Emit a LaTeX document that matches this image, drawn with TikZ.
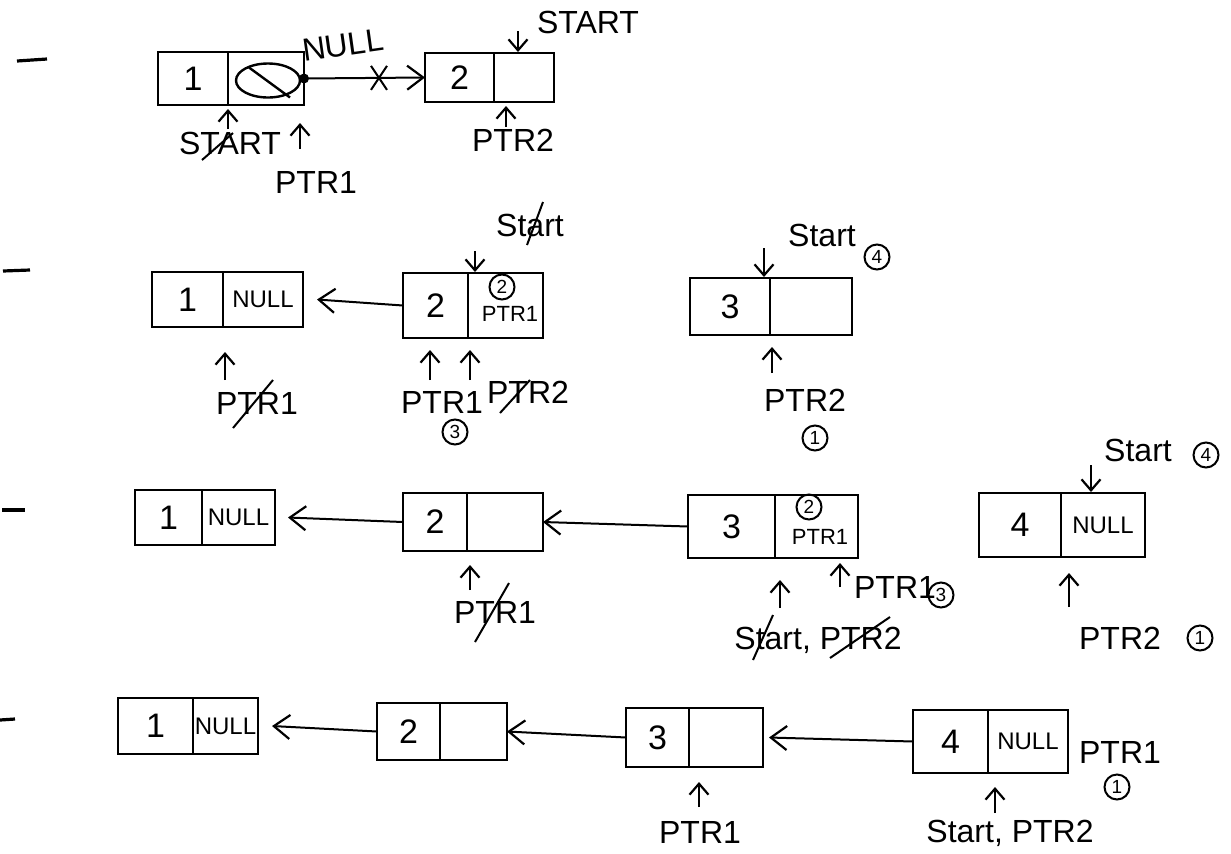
\documentclass[tikz,border=0pt]{standalone}
\usepackage{fontspec}
\setmainfont{Liberation Sans}
\usetikzlibrary{arrows.meta, calc}

\tikzset{
  cell/.style={draw, line width=1.3pt, anchor=north west, inner sep=0pt, outer sep=0pt,
    font=\fontsize{17}{17}\selectfont},
  nullcell/.style={cell, font=\fontsize{12}{12}\selectfont},
  lbl/.style={inner sep=1pt, font=\fontsize{16}{16}\selectfont},
  small/.style={inner sep=1pt, font=\fontsize{11}{11}\selectfont},
  ring/.style={draw, circle, line width=1pt, inner sep=0.5pt, minimum size=12.5pt,
    font=\fontsize{9.5}{9.5}\selectfont},
  link/.style={line width=1pt, -{Straight Barb[length=8pt,width=12pt,line width=1.1pt]}},
  ptr/.style={line width=1.1pt, -{Straight Barb[length=5.5pt,width=9.5pt]}},
  strike/.style={line width=1pt},
  rowdash/.style={line width=1.6pt}
}

\begin{document}
\begin{tikzpicture}[x=0.5pt, y=-0.5pt]
  \useasboundingbox (0,0) rectangle (1231,853);

  % Row 1
  \draw[rowdash] (17,61) -- (47,59);
  \node[cell, minimum width=35pt, minimum height=26.5pt] (a1d) at (158,52) {1};
  \node[cell, minimum width=38pt, minimum height=26.5pt] (a1p) at (a1d.north east) {};
  \node[cell, minimum width=34.5pt, minimum height=24.5pt] (a2d) at (425,53) {2};
  \node[cell, minimum width=30pt, minimum height=24.5pt] (a2p) at (a2d.north east) {};

  \draw[line width=1.2pt] ([shift={(2,2)}]a1p.center) ellipse [x radius=16pt, y radius=8.5pt];
  \draw[line width=1.2pt] ([shift={(-17,-11)}]a1p.center) -- ([shift={(24,19)}]a1p.center);
  \fill (a1p.east) circle (2.5pt);
  \draw[link] (a1p.east) -- coordinate[pos=0.62] (cut) (a2d.west);
  \draw[strike] ([shift={(-8,-12)}]cut) -- ([shift={(8,12)}]cut)
                ([shift={(8,-12)}]cut) -- ([shift={(-8,12)}]cut);

  \node[lbl, rotate=8] (nul) at (343,45) {NULL};
  \node[lbl] (st1) at (588,22) {START};
  \node[lbl] (sa1) at (230,143) {START};
  \draw[strike] ([shift={(-28,17)}]sa1.center) -- ([shift={(3,-10)}]sa1.center);
  \node[lbl] (pa1) at (316,182) {PTR1};
  \node[lbl] (pa2) at (513,140) {PTR2};

  \draw[ptr] ([shift={(24,-22)}]a2p.north west) -- ([shift={(24,-1)}]a2p.north west);
  \draw[ptr] ([shift={(0,24)}]a1p.south west) -- ([shift={(0,4)}]a1p.south west);
  \draw[ptr] ([shift={(-4,44)}]a1p.south east) -- ([shift={(-4,18)}]a1p.south east);
  \draw[ptr] ([shift={(12,25)}]a2p.south west) -- ([shift={(12,4)}]a2p.south west);

  % Row 2
  \draw[rowdash] (3,271) -- (30,270);
  \node[cell, minimum width=35.5pt, minimum height=27.5pt] (b1d) at (152,272) {1};
  \node[nullcell, minimum width=40pt, minimum height=27.5pt] (b1p) at (b1d.north east) {NULL};
  \node[cell, minimum width=32.5pt, minimum height=32.5pt] (b2d) at (403,273) {2};
  \node[cell, minimum width=37.5pt, minimum height=32.5pt] (b2p) at (b2d.north east) {};
  \node[cell, minimum width=40pt, minimum height=28.5pt] (b3d) at (690,278) {3};
  \node[cell, minimum width=41pt, minimum height=28.5pt] (b3p) at (b3d.north east) {};

  \draw[link] (b2d.west) -- ([xshift=7pt]b1p.east);

  \node[ring] (rb2) at (502,287) {2};
  \node[small] (tb2) at (510,314) {PTR1};
  \node[lbl] (sb2) at (530,225) {Start};
  \draw[strike] ([shift={(-3,20)}]sb2.center) -- ([shift={(13,-23)}]sb2.center);
  \node[lbl] (pb1) at (257,403) {PTR1};
  \draw[strike] ([shift={(-24,25)}]pb1.center) -- ([shift={(16,-23)}]pb1.center);
  \node[lbl] (pb2) at (442,402) {PTR1};
  \node[ring] (rb3) at (455,432) {3};
  \node[lbl] (pb3) at (528,392) {PTR2};
  \draw[strike] ([shift={(-28,21)}]pb3.center) -- ([shift={(2,-12)}]pb3.center);
  \node[lbl] (sb3) at (822,235) {Start};
  \node[ring] (rb4) at (877,257) {4};
  \node[lbl] (pb4) at (805,400) {PTR2};
  \node[ring] (rb1) at (815,438) {1};

  \draw[ptr] ([shift={(7,-22)}]b2p.north west) -- ([shift={(7,-1)}]b2p.north west);
  \draw[ptr] ([shift={(2,53)}]b1p.south west) -- ([shift={(2,25)}]b1p.south west);
  \draw[ptr] ([shift={(27,42)}]b2d.south west) -- ([shift={(27,12)}]b2d.south west);
  \draw[ptr] ([shift={(2,42)}]b2p.south west) -- ([shift={(2,12)}]b2p.south west);
  \draw[ptr] ([shift={(-6,-30)}]b3p.north west) -- ([shift={(-6,-1)}]b3p.north west);
  \draw[ptr] ([shift={(2,38)}]b3p.south west) -- ([shift={(2,12)}]b3p.south west);

  % Row 3
  \draw[rowdash] (2,510) -- (25,510);
  \node[cell, minimum width=33.5pt, minimum height=27.5pt] (c1d) at (135,490) {1};
  \node[nullcell, minimum width=36.5pt, minimum height=27.5pt] (c1p) at (c1d.north east) {NULL};
  \node[cell, minimum width=32pt, minimum height=29pt] (c2d) at (403,493) {2};
  \node[cell, minimum width=38pt, minimum height=29pt] (c2p) at (c2d.north east) {};
  \node[cell, minimum width=43.5pt, minimum height=31.5pt] (c3d) at (688,495) {3};
  \node[cell, minimum width=41.5pt, minimum height=31.5pt] (c3p) at (c3d.north east) {};
  \node[cell, minimum width=41pt, minimum height=32pt] (c4d) at (979,493) {4};
  \node[nullcell, minimum width=42pt, minimum height=32pt] (c4p) at (c4d.north east) {NULL};

  \draw[link] (c2d.west) -- ([xshift=6.5pt]c1p.east);
  \draw[link] (c3d.west) -- (c2p.east);

  \node[ring] (rc2) at (809,507) {2};
  \node[small] (tc3) at (820,537) {PTR1};
  \node[lbl] (pc1) at (495,612) {PTR1};
  \draw[strike] ([shift={(-20,30)}]pc1.center) -- ([shift={(14,-29)}]pc1.center);
  \node[lbl] (pc2) at (895,587) {PTR1};
  \node[ring] (rc3) at (941,595) {3};
  \node[lbl] (sc3) at (818,640) {Start, PTR2};
  \draw[strike] ([shift={(-65,20)}]sc3.center) -- ([shift={(-45,-25)}]sc3.center);
  \draw[strike] ([shift={(12,18)}]sc3.center) -- ([shift={(72,-23)}]sc3.center);
  \node[lbl] (sc4) at (1138,450) {Start};
  \node[ring] (rc4) at (1206,455) {4};
  \node[lbl] (pc3) at (1120,638) {PTR2};
  \node[ring] (rc1) at (1200,638) {1};

  \draw[ptr] ([shift={(3,39)}]c2p.south west) -- ([shift={(3,14)}]c2p.south west);
  \draw[ptr] ([shift={(5,50)}]c3p.south west) -- ([shift={(5,22)}]c3p.south west);
  \draw[ptr] ([shift={(-18,29)}]c3p.south east) -- ([shift={(-18,5)}]c3p.south east);
  \draw[ptr] ([shift={(30,-28)}]c4p.north west) -- ([shift={(30,-1)}]c4p.north west);
  \draw[ptr] ([shift={(8,50)}]c4p.south west) -- ([shift={(8,16)}]c4p.south west);

  % Row 4
  \draw[rowdash] (0,720) -- (15,719);
  \node[cell, minimum width=37.5pt, minimum height=28pt] (d1d) at (118,698) {1};
  \node[nullcell, minimum width=32.5pt, minimum height=28pt] (d1p) at (d1d.north east) {NULL};
  \node[cell, minimum width=31.5pt, minimum height=28.5pt] (d2d) at (377,703) {2};
  \node[cell, minimum width=33.5pt, minimum height=28.5pt] (d2p) at (d2d.north east) {};
  \node[cell, minimum width=31.5pt, minimum height=29.5pt] (d3d) at (626,708) {3};
  \node[cell, minimum width=37pt, minimum height=29.5pt] (d3p) at (d3d.north east) {};
  \node[cell, minimum width=37.5pt, minimum height=31.5pt] (d4d) at (913,710) {4};
  \node[nullcell, minimum width=40pt, minimum height=31.5pt] (d4p) at (d4d.north east) {NULL};

  \draw[link] (d2d.west) -- ([xshift=7pt]d1p.east);
  \draw[link] (d3d.west) -- (d2p.east);
  \draw[link] (d4d.west) -- ([xshift=3pt]d3p.east);

  \node[lbl] (pd1) at (700,832) {PTR1};
  \node[lbl] (sd4) at (1010,833) {Start, PTR2};
  \node[lbl] (pd2) at (1120,752) {PTR1};
  \node[ring] (rd1) at (1117,787) {1};

  \draw[ptr] ([shift={(10,40)}]d3p.south west) -- ([shift={(10,15)}]d3p.south west);
  \draw[ptr] ([shift={(7,40)}]d4p.south west) -- ([shift={(7,14)}]d4p.south west);
\end{tikzpicture}
\end{document}
